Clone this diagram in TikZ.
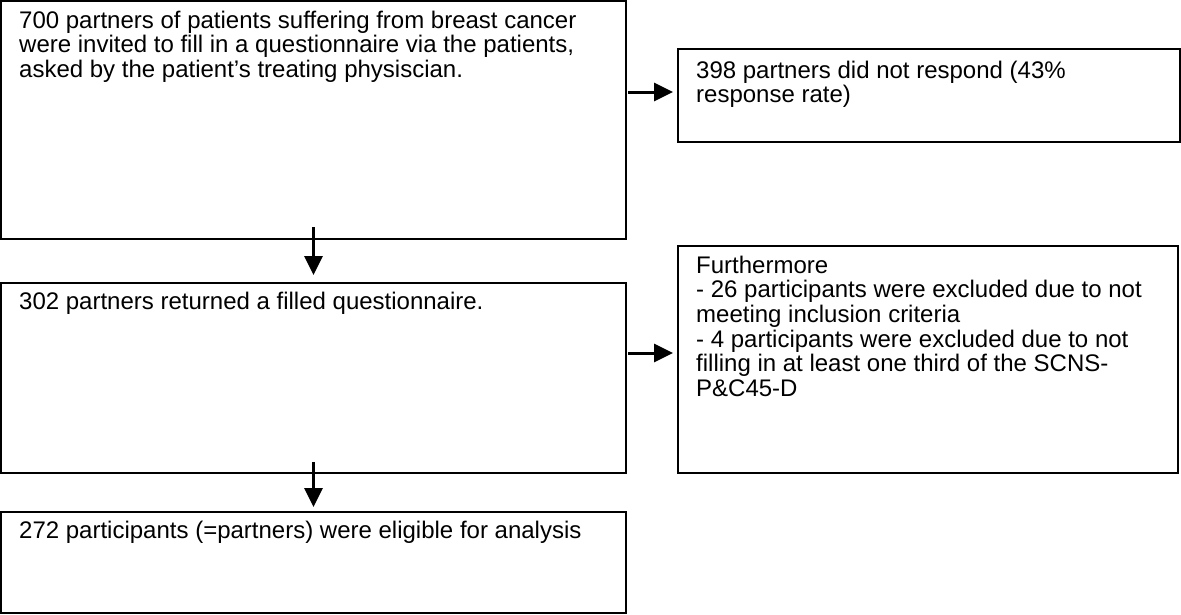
\documentclass[tikz,border=0pt]{standalone}
\usepackage{fontspec}
\setmainfont{Liberation Sans}
\usetikzlibrary{arrows.meta,positioning,calc}

\begin{document}
\begin{tikzpicture}[x=1pt,y=-1pt,
  flowbox/.style={draw=black,line width=1.6pt,rectangle,anchor=north west,inner sep=0pt,outer sep=0pt},
  boxtext/.style={anchor=north west,inner sep=0pt,align=left,font=\fontsize{24pt}{24.7pt}\selectfont},
  flowarrow/.style={line width=3pt,-{Triangle[length=19pt,width=18pt]}}]
\useasboundingbox (0,0) rectangle (1181,614);
% left column
\node[flowbox,minimum width=625pt,minimum height=238pt] (invite) at (1,1) {};
\node[flowbox,minimum width=625pt,minimum height=190pt] (returned) at (1,283) {};
\node[flowbox,minimum width=625pt,minimum height=101pt] (eligible) at (1,512) {};
% right column
\node[flowbox,minimum width=502pt,minimum height=93pt] (noresp) at (678,49) {};
\node[flowbox,minimum width=500pt,minimum height=227pt] (excluded) at (678,246) {};
% texts
\node[boxtext] (invitetext) at ([xshift=18pt,yshift=-9.5pt]invite.north west)
  {700 partners of patients suffering from breast cancer\\
   were invited to fill in a questionnaire via the patients,\\
   asked by the patient’s treating physiscian.};
\node[boxtext] (returnedtext) at ([xshift=18pt,yshift=-8.5pt]returned.north west)
  {302 partners returned a filled questionnaire.};
\node[boxtext] (eligibletext) at ([xshift=18pt,yshift=-8.5pt]eligible.north west)
  {272 participants (=partners) were eligible for analysis};
\node[boxtext] (noresptext) at ([xshift=18pt,yshift=-11.5pt]noresp.north west)
  {398 partners did not respond (43\%\\ response rate)};
\node[boxtext] (excludedtext) at ([xshift=18pt,yshift=-9.5pt]excluded.north west)
  {Furthermore\\
   - 26 participants were excluded due to not\\
   meeting inclusion criteria\\
   - 4 participants were excluded due to not\\
   filling in at least one third of the SCNS-\\
   P\&C45-D};
% arrows
\draw[flowarrow] ([yshift=12pt]invite.south) -- ([yshift=8pt]returned.north);
\draw[flowarrow] ([yshift=11pt]returned.south) -- ([yshift=5pt]eligible.north);
\draw[flowarrow] ($(invite.east |- noresp.west)+(2,-3.5)$) -- ($(noresp.west)+(-5,-3.5)$);
\draw[flowarrow] ($(returned.east |- excluded.west)+(2,-6.5)$) -- ($(excluded.west)+(-5,-6.5)$);
\end{tikzpicture}
\end{document}
